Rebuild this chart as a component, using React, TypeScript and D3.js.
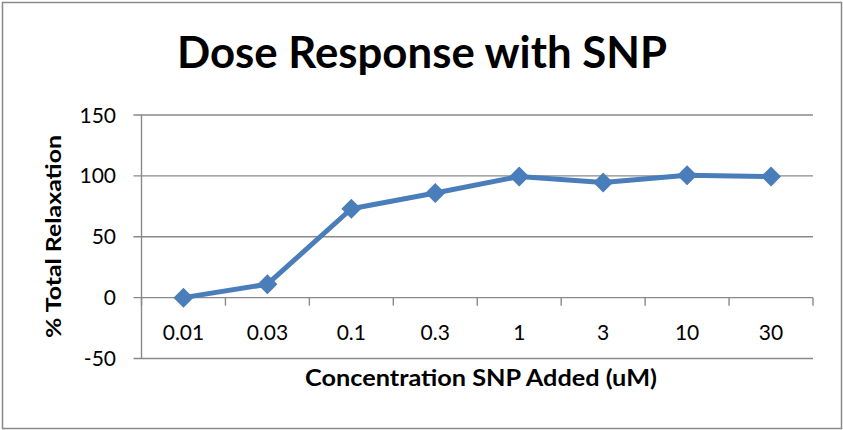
import React from 'react';
import * as d3 from 'd3';

const categories = ['0.01', '0.03', '0.1', '0.3', '1', '3', '10', '30'];
const relaxation = [0, 11, 73, 86, 99.5, 94.5, 100.5, 99.5];
const yTicks = [-50, 0, 50, 100, 150];

const title = 'Dose Response with SNP';
const xTitle = 'Concentration SNP Added (uM)';
const yTitle = '% Total Relaxation';

const W = 843;
const H = 430;
const plot = { left: 141.5, right: 813, top: 115, bottom: 358.5 };
const blue = '#4a7ebb';
const grid = '#898989';
const font = 'Lato, "Open Sans", sans-serif';

const App = () => {
  const x = d3.scaleBand().domain(categories).range([plot.left, plot.right]);
  const y = d3.scaleLinear().domain([-50, 150]).range([plot.bottom, plot.top]);
  const cx = (c: string) => (x(c) as number) + x.bandwidth() / 2;

  const line = d3
    .line<number>()
    .x((_, i) => cx(categories[i]))
    .y((d) => y(d));

  // diamond marker, 20px across
  const r = 10;
  const diamond = `M0,${-r}L${r},0L0,${r}L${-r},0Z`;

  const boundaries = categories.map((c) => x(c) as number).concat([plot.right]);

  return (
    <svg
      width={W}
      height={H}
      style={{ position: 'absolute', left: 0, top: 0, background: '#fff' }}
    >
      <rect x={2.5} y={2.5} width={W - 4} height={H - 4} fill="#fff" stroke={grid} strokeWidth={1.5} />

      <text
        x={422}
        y={68}
        textAnchor="middle"
        fontFamily={font}
        fontWeight="bold"
        fontSize={43}
        textLength={490}
        lengthAdjust="spacingAndGlyphs"
      >
        {title}
      </text>

      {/* gridlines and y ticks */}
      {yTicks.map((t) => (
        <g key={t}>
          <line x1={plot.left - 8} x2={plot.right} y1={y(t)} y2={y(t)} stroke={grid} strokeWidth={1.4} />
          <text
            x={116}
            y={y(t)}
            dy="0.36em"
            textAnchor="end"
            fontFamily={font}
            fontSize={21}
            fill="#000"
          >
            {t}
          </text>
        </g>
      ))}

      {/* y axis line */}
      <line x1={plot.left} x2={plot.left} y1={plot.top} y2={plot.bottom} stroke={grid} strokeWidth={1.4} />

      {/* category tick marks on the zero line */}
      {boundaries.map((b, i) => (
        <line key={i} x1={b} x2={b} y1={y(0)} y2={y(0) + 8} stroke={grid} strokeWidth={1.4} />
      ))}

      {categories.map((c) => (
        <text key={c} x={cx(c)} y={340} textAnchor="middle" fontFamily={font} fontSize={21} fill="#000">
          {c}
        </text>
      ))}

      <path d={line(relaxation) as string} fill="none" stroke={blue} strokeWidth={5} strokeLinejoin="round" />
      {relaxation.map((v, i) => (
        <path key={i} d={diamond} transform={`translate(${cx(categories[i])},${y(v)})`} fill={blue} />
      ))}

      <text
        x={481}
        y={386}
        textAnchor="middle"
        fontFamily={font}
        fontWeight="bold"
        fontSize={22}
        textLength={352}
        lengthAdjust="spacingAndGlyphs"
      >
        {xTitle}
      </text>

      <text
        transform="translate(61,236.5) rotate(-90)"
        textAnchor="middle"
        fontFamily={font}
        fontWeight="bold"
        fontSize={21}
        textLength={203}
        lengthAdjust="spacingAndGlyphs"
      >
        {yTitle}
      </text>
    </svg>
  );
};

export default App;
